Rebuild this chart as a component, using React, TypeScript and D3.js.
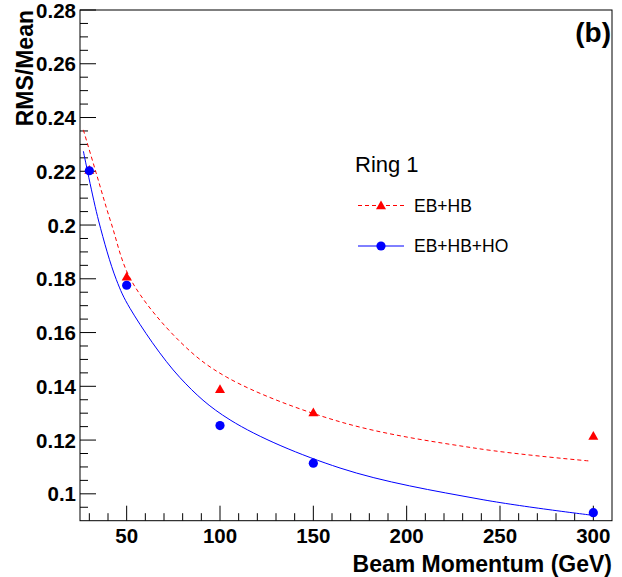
import React from "react";
import * as d3 from "d3";

const energies = [30, 50, 100, 150, 300];
const ebhb = [0.2205, 0.1808, 0.1389, 0.1303, 0.1215];
const ebhbho = [0.2202, 0.1776, 0.1254, 0.1114, 0.093];

// fitted curves
const fitRedX = [26.8, 33.6, 41.8, 52.3, 78.6, 103.6, 164.3, 237.5, 298.2];
const fitRedY = [0.2354, 0.2195, 0.2005, 0.1796, 0.1566, 0.1434, 0.1268, 0.1169, 0.1122];
const fitBlueX = [26.8, 35.0, 44.4, 51.8, 78.6, 105.4, 164.3, 239.3, 300.9];
const fitBlueY = [0.2275, 0.2015, 0.1798, 0.1690, 0.1432, 0.1275, 0.1096, 0.098, 0.0919];

const xTickVals = [50, 100, 150, 200, 250, 300];
const yTickVals = [0.1, 0.12, 0.14, 0.16, 0.18, 0.2, 0.22, 0.24, 0.26, 0.28];
const yTickLabels = ["0.1", "0.12", "0.14", "0.16", "0.18", "0.2", "0.22", "0.24", "0.26", "0.28"];

const W = 622, H = 577;
const L = 80, R = 612, T = 10, B = 520.7;
const FONT = "'Liberation Sans', Arial, Helvetica, sans-serif";

export default function App() {
  const x = d3.scaleLinear().domain([25, 310]).range([L, R]);
  const y = d3.scaleLinear().domain([0.09, 0.28]).range([B, T]);

  const xMinor = d3.range(30, 310, 10).filter((v) => v % 50 !== 0);
  const yMinor = d3.range(0.095, 0.2801, 0.005).filter(
    (v) => Math.abs(Math.round(v / 0.02) * 0.02 - v) > 1e-6
  );

  const line = d3
    .line<[number, number]>()
    .x((d) => x(d[0]))
    .y((d) => y(d[1]))
    .curve(d3.curveCatmullRom.alpha(0.5));

  const redPts = fitRedX.map((v, i) => [v, fitRedY[i]] as [number, number]);
  const bluePts = fitBlueX.map((v, i) => [v, fitBlueY[i]] as [number, number]);

  const tri = (cx: number, cy: number, s = 5) =>
    `M${cx},${cy - s} L${cx + s},${cy + s * 0.75} L${cx - s},${cy + s * 0.75} Z`;

  return (
    <svg
      width={W}
      height={H}
      style={{ position: "absolute", left: 0, top: 0, background: "#fff" }}
      fontFamily={FONT}
    >
      <rect x={0} y={0} width={W} height={H} fill="#fff" />
      {/* frame */}
      <rect x={L} y={T} width={R - L} height={B - T} fill="none" stroke="#000" strokeWidth={1} />

      {/* y ticks */}
      {yTickVals.map((v, i) => (
        <g key={"yt" + i}>
          <line x1={L} x2={L + 16} y1={y(v)} y2={y(v)} stroke="#000" />
          <text
            x={76}
            y={y(v) + 7.5}
            textAnchor="end"
            fontSize={20.5}
            fontWeight="bold"
          >
            {yTickLabels[i]}
          </text>
        </g>
      ))}
      {yMinor.map((v, i) => (
        <line key={"ym" + i} x1={L} x2={L + 8} y1={y(v)} y2={y(v)} stroke="#000" />
      ))}

      {/* x ticks */}
      {xTickVals.map((v, i) => (
        <g key={"xt" + i}>
          <line x1={x(v)} x2={x(v)} y1={B} y2={B - 15} stroke="#000" />
          <text x={x(v)} y={543} textAnchor="middle" fontSize={20.5} fontWeight="bold">
            {v}
          </text>
        </g>
      ))}
      {xMinor.map((v, i) => (
        <line key={"xm" + i} x1={x(v)} x2={x(v)} y1={B} y2={B - 7.5} stroke="#000" />
      ))}

      {/* titles */}
      <text x={612} y={572} textAnchor="end" fontSize={23} fontWeight="bold">
        Beam Momentum (GeV)
      </text>
      <text
        transform={`translate(33,${T}) rotate(-90)`}
        textAnchor="end"
        fontSize={23}
        fontWeight="bold"
      >
        RMS/Mean
      </text>
      <text x={611} y={42} textAnchor="end" fontSize={28} fontWeight="bold">
        (b)
      </text>

      {/* fit curves */}
      <path d={line(redPts) || ""} fill="none" stroke="#ff0000" strokeWidth={1} strokeDasharray="4,3" />
      <path d={line(bluePts) || ""} fill="none" stroke="#0000ff" strokeWidth={1} />

      {/* markers */}
      {energies.map((e, i) => (
        <path key={"r" + i} d={tri(x(e), y(ebhb[i]))} fill="#ff0000" />
      ))}
      {energies.map((e, i) => (
        <circle key={"b" + i} cx={x(e)} cy={y(ebhbho[i])} r={4.6} fill="#0000ff" />
      ))}

      {/* legend */}
      <text x={355} y={172} fontSize={22}>
        Ring 1
      </text>
      <line x1={358} x2={404} y1={205.5} y2={205.5} stroke="#ff0000" strokeDasharray="4,3" />
      <path d={tri(381, 205.5)} fill="#ff0000" />
      <text x={414} y={211.5} fontSize={17.5}>
        EB+HB
      </text>
      <line x1={358} x2={404} y1={246} y2={246} stroke="#0000ff" />
      <circle cx={381} cy={246} r={4.6} fill="#0000ff" />
      <text x={414} y={252} fontSize={17.5}>
        EB+HB+HO
      </text>
    </svg>
  );
}
